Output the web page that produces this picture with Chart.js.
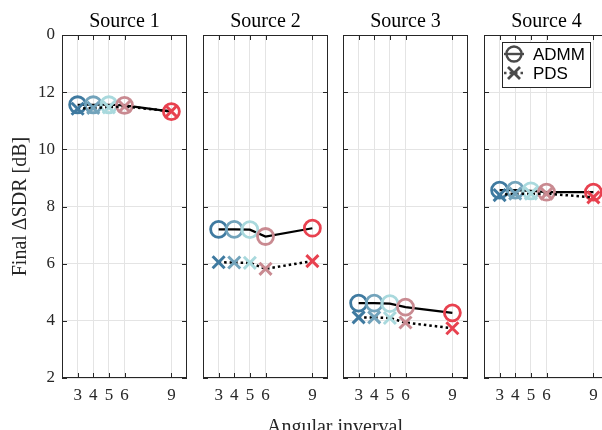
<!DOCTYPE html>
<html>
<head>
<meta charset="utf-8">
<script src="https://cdn.jsdelivr.net/npm/chart.js@4.4.0/dist/chart.umd.min.js"></script>
<style>
html, body { margin:0; padding:0; background:#fff; overflow:hidden; width:602px; height:430px; }
#fig { position:relative; width:602px; height:430px; overflow:hidden; }
#fig canvas { position:absolute; top:0; }
#xlab { position:absolute; left:0; width:670px; top:416px; text-align:center;
        font:20px/20px "Liberation Serif"; color:#262626; white-space:nowrap; }
</style>
</head>
<body>
<div id="fig">
  <canvas id="p1" width="190" height="430" style="left:0px"></canvas>
  <canvas id="p2" width="131" height="430" style="left:200px"></canvas>
  <canvas id="p3" width="131" height="430" style="left:340px"></canvas>
  <canvas id="p4" width="131" height="430" style="left:481px"></canvas>
  <div id="xlab">Angular inverval</div>
</div>
<script>
// angular intervals (x) and tick labels
var intervals = [3, 4, 5, 6, 9];
var xTicks = [3, 4, 5, 6, 9];
var yTicks = [2, 4, 6, 8, 10, 12, 14];
var sources = ['Source 1', 'Source 2', 'Source 3', 'Source 4'];

// final delta SDR [dB], one array per source
var admm1 = [11.56, 11.56, 11.56, 11.54, 11.32];
var admm2 = [7.20, 7.20, 7.19, 6.95, 7.24];
var admm3 = [4.62, 4.62, 4.60, 4.48, 4.28];
var admm4 = [8.57, 8.57, 8.55, 8.50, 8.50];
var pds1 = [11.42, 11.45, 11.47, 11.50, 11.33];
var pds2 = [6.05, 6.04, 6.03, 5.82, 6.09];
var pds3 = [4.12, 4.12, 4.10, 3.94, 3.74];
var pds4 = [8.40, 8.45, 8.45, 8.45, 8.32];

var admm = [admm1, admm2, admm3, admm4];
var pds = [pds1, pds2, pds3, pds4];

// one colour per interval
var markerColors = ['#3f7aa0', '#72a3bb', '#a9d9dd', '#c98a91', '#e8414f'];

function pts(vals) {
  var out = [];
  for (var i = 0; i < intervals.length; i++) {
    out.push({x: intervals[i], y: vals[i]});
  }
  return out;
}

var serif = 'Liberation Serif';

// box, inward ticks, panel title, legend
var decor = {
  id: 'decor',
  afterDraw: function(chart) {
    var ctx = chart.ctx;
    var a = chart.chartArea;
    var xs = chart.scales.x, ys = chart.scales.y;
    ctx.save();
    ctx.strokeStyle = '#262626';
    ctx.lineWidth = 1;
    ctx.beginPath();
    xTicks.forEach(function(v) {
      var px = Math.round(xs.getPixelForValue(v)) + 0.5;
      ctx.moveTo(px, a.bottom); ctx.lineTo(px, a.bottom - 5);
      ctx.moveTo(px, a.top); ctx.lineTo(px, a.top + 5);
    });
    yTicks.forEach(function(v) {
      var py = Math.round(ys.getPixelForValue(v)) + 0.5;
      ctx.moveTo(a.left, py); ctx.lineTo(a.left + 5, py);
      ctx.moveTo(a.right, py); ctx.lineTo(a.right - 5, py);
    });
    ctx.stroke();
    ctx.strokeRect(a.left + 0.5, a.top + 0.5, a.right - a.left - 1, a.bottom - a.top - 1);

    // title
    ctx.fillStyle = '#000';
    ctx.font = '20px "' + serif + '"';
    ctx.textAlign = 'center';
    ctx.textBaseline = 'alphabetic';
    ctx.fillText(chart.options.plugins.decor.title, (a.left + a.right) / 2, 26.5);

    if (chart.options.plugins.decor.legend) {
      var bx = 21, by = 42, bw = 88, bh = 45;
      ctx.fillStyle = '#fff';
      ctx.fillRect(bx, by, bw, bh);
      ctx.strokeStyle = '#262626';
      ctx.strokeRect(bx + 0.5, by + 0.5, bw, bh);
      var g = '#4a4a4a';
      // ADMM row
      ctx.strokeStyle = g;
      ctx.lineWidth = 2.4;
      ctx.beginPath(); ctx.moveTo(bx + 2, 54); ctx.lineTo(bx + 22, 54); ctx.stroke();
      ctx.beginPath(); ctx.arc(bx + 12, 54, 7.5, 0, Math.PI * 2); ctx.stroke();
      // PDS row
      ctx.lineWidth = 2.5;
      ctx.setLineDash([2.5, 3]);
      ctx.beginPath(); ctx.moveTo(bx + 2, 73); ctx.lineTo(bx + 22, 73); ctx.stroke();
      ctx.setLineDash([]);
      ctx.lineWidth = 2.8;
      ctx.beginPath();
      ctx.moveTo(bx + 6, 67); ctx.lineTo(bx + 18, 79);
      ctx.moveTo(bx + 18, 67); ctx.lineTo(bx + 6, 79);
      ctx.stroke();
      ctx.fillStyle = '#000';
      ctx.font = '17px "Liberation Sans"';
      ctx.textAlign = 'left';
      ctx.textBaseline = 'middle';
      ctx.fillText('ADMM', bx + 31, 55);
      ctx.fillText('PDS', bx + 31, 74);
    }
    ctx.restore();
  }
};

function makePanel(id, k) {
  var first = (k === 0);
  var config = {
    type: 'line',
    data: {
      datasets: [{
        label: 'PDS',
        data: pts(pds[k]),
        borderColor: '#000',
        borderWidth: 2.5,
        borderDash: [2.5, 3],
        pointStyle: 'crossRot',
        pointRadius: 8.5,
        pointBorderWidth: 3,
        pointBorderColor: markerColors,
        pointBackgroundColor: 'rgba(0,0,0,0)',
        order: 0
      }, {
        label: 'ADMM',
        data: pts(admm[k]),
        borderColor: '#000',
        borderWidth: 2.2,
        pointStyle: 'circle',
        pointRadius: 8,
        pointBorderWidth: 2.8,
        pointBorderColor: markerColors,
        pointBackgroundColor: 'rgba(0,0,0,0)',
        order: 1
      }]
    },
    options: {
      responsive: false,
      animation: false,
      layout: { autoPadding: false, padding: { top: 35, left: first ? 0 : 3, right: 3, bottom: 0 } },
      plugins: {
        legend: { display: false },
        tooltip: { enabled: false },
        decor: { title: sources[k], legend: k === 3 }
      },
      scales: {
        x: {
          type: 'linear', min: 2, max: 10,
          afterBuildTicks: function(s) { s.ticks = xTicks.map(function(v) { return {value: v}; }); },
          afterFit: function(s) { s.height = 52; },
          grid: { color: '#e4e4e4', drawTicks: false },
          border: { display: false },
          ticks: { padding: 7, color: '#262626', font: { family: serif, size: 17 } }
        },
        y: {
          type: 'linear', min: 2, max: 14,
          afterBuildTicks: function(s) { s.ticks = yTicks.map(function(v) { return {value: v}; }); },
          afterFit: function(s) { s.width = first ? 62 : 0; },
          grid: { color: '#e4e4e4', drawTicks: false },
          border: { display: false },
          ticks: {
            display: first, padding: 7, color: '#262626',
            font: { family: serif, size: 17 },
            callback: function(v) { return v === 14 ? '0' : v; }
          },
          title: {
            display: first, text: 'Final \u0394SDR [dB]', color: '#262626',
            font: { family: serif, size: 20 }, padding: { top: 9, bottom: 0 }
          }
        }
      }
    },
    plugins: [decor]
  };
  return new Chart(document.getElementById(id), config);
}

makePanel('p1', 0);
makePanel('p2', 1);
makePanel('p3', 2);
makePanel('p4', 3);
</script>
</body>
</html>
